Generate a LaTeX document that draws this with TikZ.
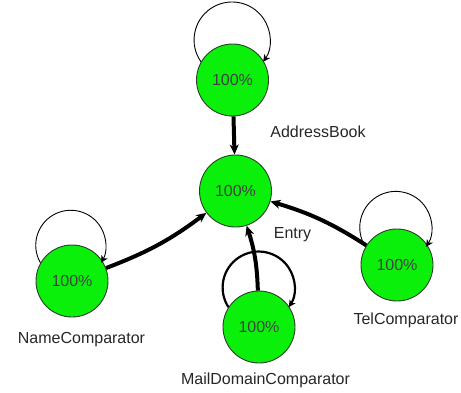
\documentclass[tikz,border=0pt]{standalone}
\usepackage{fontspec}
\setmainfont{Liberation Sans}
\usetikzlibrary{arrows.meta}
\definecolor{nodegreen}{RGB}{10,240,10}
\definecolor{rimgray}{RGB}{45,60,45}

\begin{document}
\begin{tikzpicture}[
    x=1pt, y=1pt,
    bubble/.style={circle, draw=rimgray, line width=0.9pt, fill=nodegreen, minimum size=72pt, inner sep=0pt, font=\fontsize{16}{19}\selectfont, text=black!75},
    tag/.style={font=\fontsize{16}{19}\selectfont, text=black!85, inner sep=0pt},
    flow/.style={-{Stealth[length=10pt,width=9pt,inset=3pt]}, line width=4pt},
    selfloop/.style={-{Stealth[length=7pt,width=7pt,inset=2pt]}, line width=0.9pt},
]
    \useasboundingbox (0,0) rectangle (461,392);

    \node[bubble] (addr)  at (232.5,312) {100\%};
    \node[bubble] (entry) at (235.5,201) {100\%};
    \node[bubble] (name)  at (72,111)    {100\%};
    \node[bubble] (mail)  at (259,65)    {100\%};
    \node[bubble] (tel)   at (397,127)   {100\%};

    \node[tag] (addrlbl)  at (318,260)   {AddressBook};
    \node[tag] (entrylbl) at (292.5,157) {Entry};
    \node[tag] (namelbl)  at (81.5,52)   {NameComparator};
    \node[tag] (maillbl)  at (265.5,12)  {MailDomainComparator};
    \node[tag] (tellbl)   at (406,72)    {TelComparator};

    % self references, round arcs over each node
    \draw[selfloop] (addr.150) arc[start angle=215, end angle=-35, radius=38];
    \draw[selfloop] (name.150) arc[start angle=210, end angle=-30, radius=35];
    \draw[selfloop] (tel.150) arc[start angle=212.6, end angle=-32.6, radius=36];
    \draw[selfloop, line width=2.2pt] (mail.147) arc[start angle=213, end angle=-33, radius=36];

    % links into Entry
    \draw[flow] (addr) -- (entry);
    \draw[flow] (name) to[bend right=8] (entry);
    \draw[flow] (mail) to[bend right=8] (entry);
    \draw[flow] (tel) to[bend right=8] (entry);

\end{tikzpicture}
\end{document}
